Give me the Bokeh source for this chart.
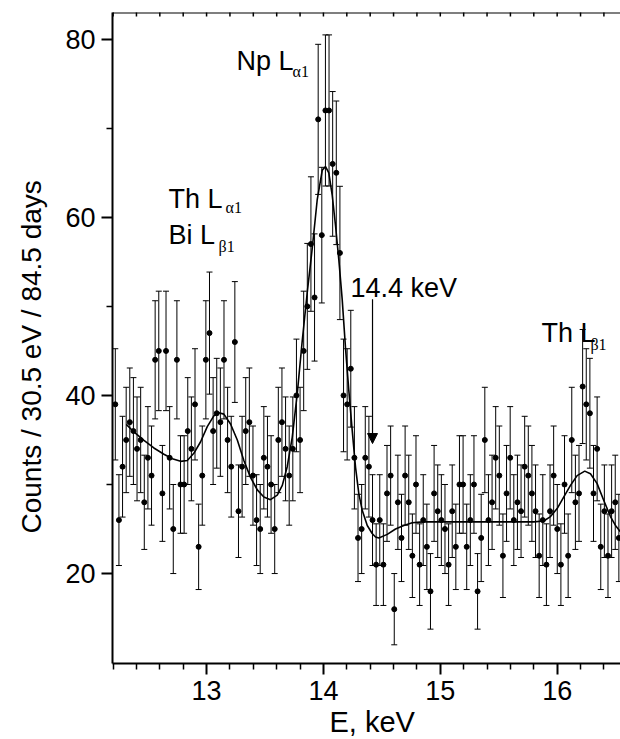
import numpy as np
from bokeh.plotting import figure
from bokeh.models import (Range1d, LinearAxis, FixedTicker, Whisker, TeeHead,
                          ColumnDataSource, Label, Arrow, NormalHead, Span, Title)
from bokeh.embed import file_html
from bokeh.resources import INLINE

# ---- data ----
counts = [39, 26, 32, 35, 37, 36, 34, 35, 28, 33, 31, 44, 45, 29, 45, 33, 25, 44, 30, 30,
          36, 34, 39, 23, 31, 44, 47,
          36, 38, 37, 44, 35, 32, 46, 27, 32, 36, 37, 31, 26, 25, 33, 32, 30, 25, 35, 37,
          34, 31, 34, 40, 35, 45, 50,
          57, 51, 71, 58, 72, 72, 66, 65, 56, 40, 39, 43, 33, 24, 25, 33, 32,
          26, 21, 26, 21, 29, 31, 16, 28, 24, 31, 28, 22, 30, 21, 26, 23, 18, 29, 27, 26,
          25, 21, 27, 23, 30, 30, 23, 26, 30, 18, 24, 35, 26,
          28, 33, 31, 22, 29, 33, 26, 28, 27, 32, 31, 29, 27, 22, 26, 21, 27, 31, 25, 21,
          30, 22, 35, 28, 29, 41, 39, 38, 29, 34, 23, 27, 22, 27, 28, 24]
e_start = 12.219      # keV, first channel
e_step = 0.0310       # keV per channel

fit_energy = [12.313, 12.378, 12.464, 12.549, 12.635, 12.707, 12.778, 12.835, 12.891, 12.949,
              13.006, 13.062, 13.105, 13.148, 13.205, 13.263, 13.319, 13.376, 13.434, 13.490,
              13.547, 13.605, 13.648, 13.690, 13.733, 13.776, 13.819, 13.861, 13.904, 13.947,
              13.990, 14.018, 14.046, 14.075, 14.104, 14.132, 14.161, 14.189, 14.217, 14.246,
              14.275, 14.303, 14.332, 14.375, 14.417, 14.446, 14.474, 14.546, 14.617, 14.688,
              14.760, 14.850, 15.300, 15.800, 15.885, 15.943, 16.000, 16.057, 16.114, 16.171,
              16.236, 16.285, 16.342, 16.399, 16.456, 16.499, 16.541]
fit_counts = [36.75, 35.9, 34.95, 34.1, 33.4, 32.9, 32.6, 32.7, 33.5, 34.8,
              36.5, 37.7, 38.05, 37.9, 36.8, 35.0, 32.7, 30.8, 29.4, 28.6,
              28.3, 28.8, 29.9, 32.0, 35.3, 40.2, 46.2, 51.5, 56.5, 62.0,
              65.3, 65.7, 65.0, 62.5, 59.0, 55.2, 50.7, 45.3, 40.6, 36.1,
              31.9, 28.95, 27.1, 25.4, 24.5, 24.1, 24.0, 24.4, 25.0, 25.4,
              25.7, 25.8, 25.8, 25.8, 25.9, 26.4, 27.3, 28.6, 29.9, 31.0,
              31.5, 31.2, 30.1, 28.2, 26.4, 25.4, 24.7]

x_major_ticks = [13, 14, 15, 16]
x_minor_ticks = [12.2, 12.4, 12.6, 12.8, 13.2, 13.4, 13.6, 13.8, 14.2, 14.4, 14.6, 14.8,
                 15.2, 15.4, 15.6, 15.8, 16.2, 16.4]
y_major_ticks = [20, 40, 60, 80]
y_minor_ticks = [30, 50, 70]

# ---- build ----
energy = e_start + e_step * np.arange(len(counts))
cnt = np.array(counts, dtype=float)
err = np.sqrt(cnt)
src = ColumnDataSource(dict(e=energy, n=cnt, lo=cnt - err, hi=cnt + err))

X0, X1 = 12.195, 16.542
Y0, Y1 = 9.9, 83.0
FONT = "Liberation Sans"

p = figure(width=620, height=739, output_backend="svg", toolbar_location=None,
           x_range=Range1d(X0, X1), y_range=Range1d(Y0, Y1),
           x_axis_location=None, y_axis_location=None,
           min_border_left=112, min_border_right=0, min_border_top=12, min_border_bottom=76)
p.grid.visible = False
p.outline_line_color = None
p.background_fill_color = "white"
p.border_fill_color = "white"

def style_axis(ax):
    ax.axis_line_width = 2
    ax.axis_line_color = "black"
    ax.major_tick_line_width = 2
    ax.minor_tick_line_width = 1.5
    ax.major_tick_line_color = "black"
    ax.minor_tick_line_color = "black"
    ax.major_label_text_font = FONT
    ax.major_label_text_font_size = "27px"
    ax.major_label_text_color = "black"

xb = LinearAxis(ticker=FixedTicker(ticks=x_major_ticks, minor_ticks=x_minor_ticks))
style_axis(xb)
xb.major_tick_out = 11
xb.major_tick_in = 0
xb.minor_tick_out = 6
xb.minor_tick_in = 0
xb.major_label_standoff = 6
p.add_layout(xb, "below")

yl = LinearAxis(ticker=FixedTicker(ticks=y_major_ticks, minor_ticks=y_minor_ticks))
style_axis(yl)
yl.major_tick_out = 11
yl.major_tick_in = 0
yl.minor_tick_out = 6
yl.minor_tick_in = 0
yl.major_label_standoff = 6
p.add_layout(yl, "left")

# axis titles as side titles
p.add_layout(Title(text="Counts / 30.5 eV / 84.5 days", align="left", offset=130,
                   vertical_align="top",
                   text_font=FONT, text_font_size="28px", text_font_style="normal",
                   text_color="black", standoff=27), "left")
p.add_layout(Title(text="E, keV", align="left", offset=217,
                   text_font=FONT, text_font_size="29px", text_font_style="normal",
                   text_color="black", standoff=3), "below")

# top frame line with small inward ticks
p.add_layout(Span(location=Y1, dimension="width", line_color="black", line_width=2))
top_ticks = sorted(x_major_ticks + x_minor_ticks)
p.scatter(top_ticks, [Y1] * len(top_ticks), marker="dash", angle=np.pi / 2, size=8,
          line_color="black", line_width=1.5)

# error bars
wh = Whisker(source=src, base="e", upper="hi", lower="lo", dimension="height",
             line_color="black", line_width=1,
             upper_head=TeeHead(size=6, line_color="black", line_width=1),
             lower_head=TeeHead(size=6, line_color="black", line_width=1))
p.add_layout(wh)

# fit curve
p.line(fit_energy, fit_counts, line_color="black", line_width=1.6)

# data points
p.scatter("e", "n", source=src, size=5, fill_color="black", line_color="black")

# annotations
def lab(x, y, t, size="27px", font=FONT):
    p.add_layout(Label(x=x, y=y, text=t, text_align="left", text_baseline="alphabetic",
                       text_font=font, text_font_size=size, text_color="black"))

SUB = "Liberation Serif"
lab(13.257, 77.6, "Np L")
lab(13.736, 76.4, "\u03b11", "16px", SUB)
lab(12.675, 62.1, "Th L")
lab(13.163, 61.1, "\u03b11", "16px", SUB)
lab(12.675, 58.0, "Bi L")
lab(13.103, 56.7, "\u03b21", "16px", SUB)
lab(14.232, 52.1, "14.4 keV")
lab(15.866, 47.0, "Th L")
lab(16.285, 45.7, "\u03b21", "16px", SUB)

p.add_layout(Arrow(x_start=14.42, y_start=50.8, x_end=14.42, y_end=34.6,
                   line_color="black", line_width=1.2,
                   end=NormalHead(size=10, fill_color="black", line_color="black")))

open("out.html", "w").write(file_html(p, INLINE))
